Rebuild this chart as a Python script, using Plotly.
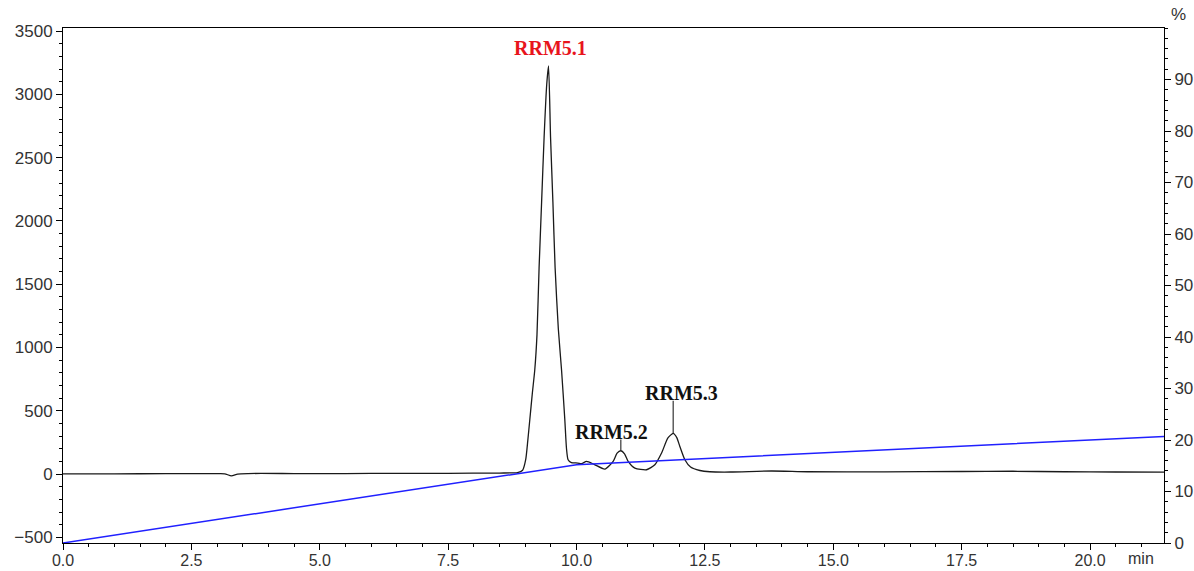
import plotly.graph_objects as go

# Chromatogram signal (mAU) against retention time (min)
time_min = [0.0, 1.0, 2.0, 3.0, 3.15, 3.28, 3.4, 3.6, 4.5, 5.5, 6.5, 7.5, 8.5, 8.85,
            8.95, 9.01, 9.05, 9.09, 9.14, 9.187, 9.23, 9.271, 9.32, 9.369, 9.42, 9.455,
            9.494, 9.54, 9.583, 9.645, 9.708, 9.772, 9.805, 9.836, 9.9, 10.025, 10.1,
            10.195, 10.35, 10.551, 10.713, 10.79, 10.863, 10.935, 11.005, 11.136, 11.364,
            11.525, 11.656, 11.78, 11.882, 11.95, 12.012, 12.11, 12.221, 12.402, 12.597,
            13.0, 13.8, 14.5, 16.0, 17.5, 18.5, 19.5, 20.5, 21.44]
signal = [2, 2, 3, 3, 2, -15, 0, 4, 4, 4, 5, 6, 8, 12,
          30, 113, 260, 429, 640, 824, 1100, 1630, 2150, 2664, 3080, 3225,
          2664, 2150, 1630, 1150, 824, 429, 200, 113, 90, 87, 82,
          100, 75, 39, 100, 165, 184, 160, 100, 47, 34,
          73, 166, 285, 322, 290, 218, 113, 55, 28, 18,
          16, 24, 18, 17, 20, 22, 18, 16, 15]

# Solvent gradient (%B)
grad_time = [0.0, 10.0, 21.44]
grad_pct = [0.0, 15.2, 20.7]

# Peak annotations
peak_names = ["RRM5.1", "RRM5.2", "RRM5.3"]
peak_times = [9.455, 10.863, 11.882]
peak_heights = [3225, 184, 322]
label_levels = [3300, 272, 580]
label_xshift = [2, -9, 8]
label_colors = ["#e8141c", "#111111", "#111111"]
leader = [False, True, True]

x_ticks = [0.0, 2.5, 5.0, 7.5, 10.0, 12.5, 15.0, 17.5, 20.0]
y_ticks = [-500, 0, 500, 1000, 1500, 2000, 2500, 3000, 3500]
pct_ticks = [0, 10, 20, 30, 40, 50, 60, 70, 80, 90]

tick_font = dict(family="Liberation Sans, Arial", size=17, color="#333333")
x_tick_font = dict(family="Liberation Sans, Arial", size=16, color="#333333")

fig = go.Figure()
fig.add_trace(go.Scatter(x=time_min, y=signal, mode="lines",
                         line=dict(color="#1a1a1a", width=1.3, shape="spline", smoothing=0.6),
                         hoverinfo="x+y", showlegend=False))
fig.add_trace(go.Scatter(x=grad_time, y=grad_pct, mode="lines", yaxis="y2",
                         line=dict(color="#2020ff", width=1.5), showlegend=False))

for name, t, h, lv, dx, col, ld in zip(peak_names, peak_times, peak_heights,
                                       label_levels, label_xshift, label_colors, leader):
    if ld:
        fig.add_trace(go.Scatter(x=[t, t], y=[h, lv], mode="lines",
                                 line=dict(color="#222222", width=1.1),
                                 hoverinfo="skip", showlegend=False))
    fig.add_annotation(x=t, y=lv, text=f"<b>{name}</b>", showarrow=False,
                       xanchor="center", yanchor="bottom", xshift=dx, yshift=-5,
                       font=dict(family="Liberation Serif, Times New Roman", size=20, color=col))

fig.add_annotation(x=21.0, y=0, xref="x", yref="paper", text="min", showarrow=False,
                   yanchor="top", yshift=-5, font=x_tick_font)
fig.add_annotation(x=1, y=1, xref="paper", yref="paper", text="%", showarrow=False,
                   xanchor="left", yanchor="bottom", xshift=5, yshift=2, font=tick_font)

fig.update_layout(
    width=1194, height=571,
    margin=dict(l=63, r=30, t=28, b=28, autoexpand=False),
    paper_bgcolor="white", plot_bgcolor="white",
    xaxis=dict(range=[0, 21.44], tickvals=x_ticks, tickformat=".1f", automargin=False,
               showline=True, linecolor="black", linewidth=1, mirror=True,
               ticks="outside", ticklen=6, tickcolor="black", showgrid=False,
               zeroline=False, tickfont=x_tick_font, ticklabelstandoff=-3,
               minor=dict(dtick=0.5, ticks="outside", ticklen=3, tickcolor="black", showgrid=False)),
    yaxis=dict(range=[-545, 3525], tickvals=y_ticks, automargin=False,
               showline=True, linecolor="black", linewidth=1,
               ticks="outside", ticklen=6, tickcolor="black", showgrid=False,
               zeroline=False, tickfont=tick_font,
               minor=dict(dtick=100, ticks="outside", ticklen=3, tickcolor="black", showgrid=False)),
    yaxis2=dict(range=[0, 100], tickvals=pct_ticks, overlaying="y", side="right",
                automargin=False,
                showline=True, linecolor="black", linewidth=1,
                ticks="outside", ticklen=6, tickcolor="black", showgrid=False,
                zeroline=False, tickfont=tick_font, ticklabelstandoff=0,
                minor=dict(dtick=2, ticks="outside", ticklen=3, tickcolor="black", showgrid=False)),
)

fig.write_html("out.html")
